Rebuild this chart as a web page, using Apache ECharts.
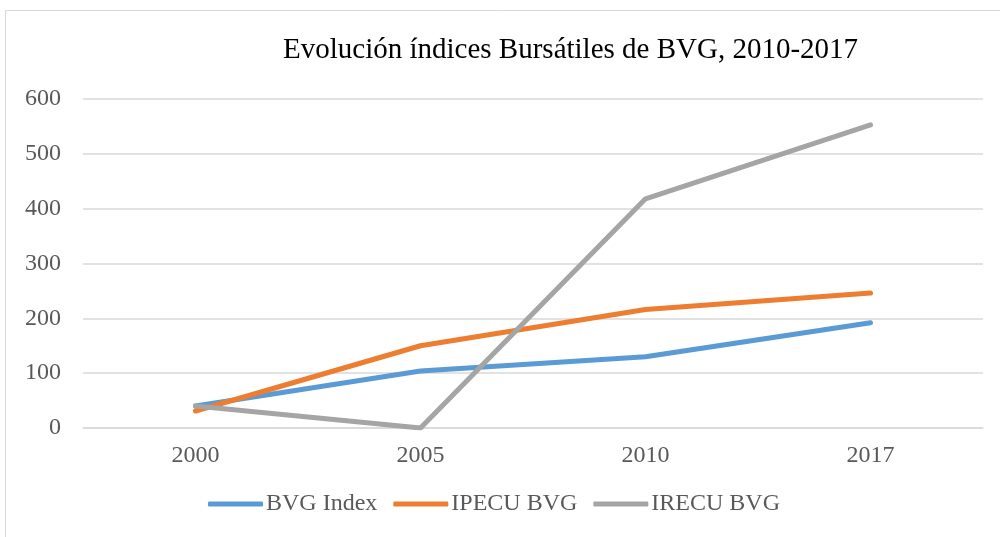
<!DOCTYPE html>
<html>
<head>
<meta charset="utf-8">
<script src="https://cdn.jsdelivr.net/npm/echarts@6/dist/echarts.min.js"></script>
<style>
  html, body { margin: 0; padding: 0; background: #fff; }
  #chart { width: 1000px; height: 537px; }
</style>
</head>
<body>
<div id="chart"></div>
<script>
const years = ['2000', '2005', '2010', '2017'];
const bvgIndex = [40, 104, 130, 192];
const ipecuBvg = [31, 150, 216, 246];
const irecuBvg = [40, 0, 418, 553];

const serif = '"Liberation Serif", "Times New Roman", serif';
const textColor = '#595959';

const chart = echarts.init(document.getElementById('chart'));

function line(name, data, color) {
  return {
    name: name,
    type: 'line',
    data: data,
    showSymbol: false,
    symbol: 'none',
    smooth: false,
    lineStyle: { width: 5, color: color, cap: 'round', join: 'round' },
    itemStyle: { color: color }
  };
}

chart.setOption({
  animation: false,
  graphic: [{
    type: 'rect',
    shape: { x: 5.5, y: 10.5, width: 1010, height: 540 },
    style: { fill: 'none', stroke: '#D9D9D9', lineWidth: 1 },
    silent: true
  }],
  title: {
    text: 'Evolución índices Bursátiles de BVG, 2010-2017',
    left: 278,
    top: 31,
    textStyle: { fontFamily: serif, fontSize: 29, fontWeight: 'normal', color: '#000' }
  },
  legend: {
    bottom: 16,
    left: 203,
    itemWidth: 55,
    itemHeight: 5,
    itemGap: 16,
    icon: 'roundRect',
    textStyle: { fontFamily: serif, fontSize: 24, color: textColor, padding: [0, 0, 0, -2] },
    data: ['BVG Index', 'IPECU BVG', 'IRECU BVG']
  },
  grid: { left: 83, right: 17, top: 99, bottom: 109, containLabel: false },
  xAxis: {
    type: 'category',
    data: years,
    boundaryGap: true,
    axisLine: { show: true, lineStyle: { color: '#D9D9D9', width: 1.5 } },
    axisTick: { show: false },
    axisLabel: { fontFamily: serif, fontSize: 24, color: textColor, margin: 16 }
  },
  yAxis: {
    type: 'value',
    min: 0,
    max: 600,
    interval: 100,
    axisLine: { show: false },
    axisTick: { show: false },
    axisLabel: { fontFamily: serif, fontSize: 24, color: textColor, margin: 22 },
    splitLine: { lineStyle: { color: '#D9D9D9', width: 1.5 } }
  },
  series: [
    line('BVG Index', bvgIndex, '#5B9BD5'),
    line('IPECU BVG', ipecuBvg, '#ED7D31'),
    line('IRECU BVG', irecuBvg, '#A5A5A5')
  ]
});
</script>
</body>
</html>
